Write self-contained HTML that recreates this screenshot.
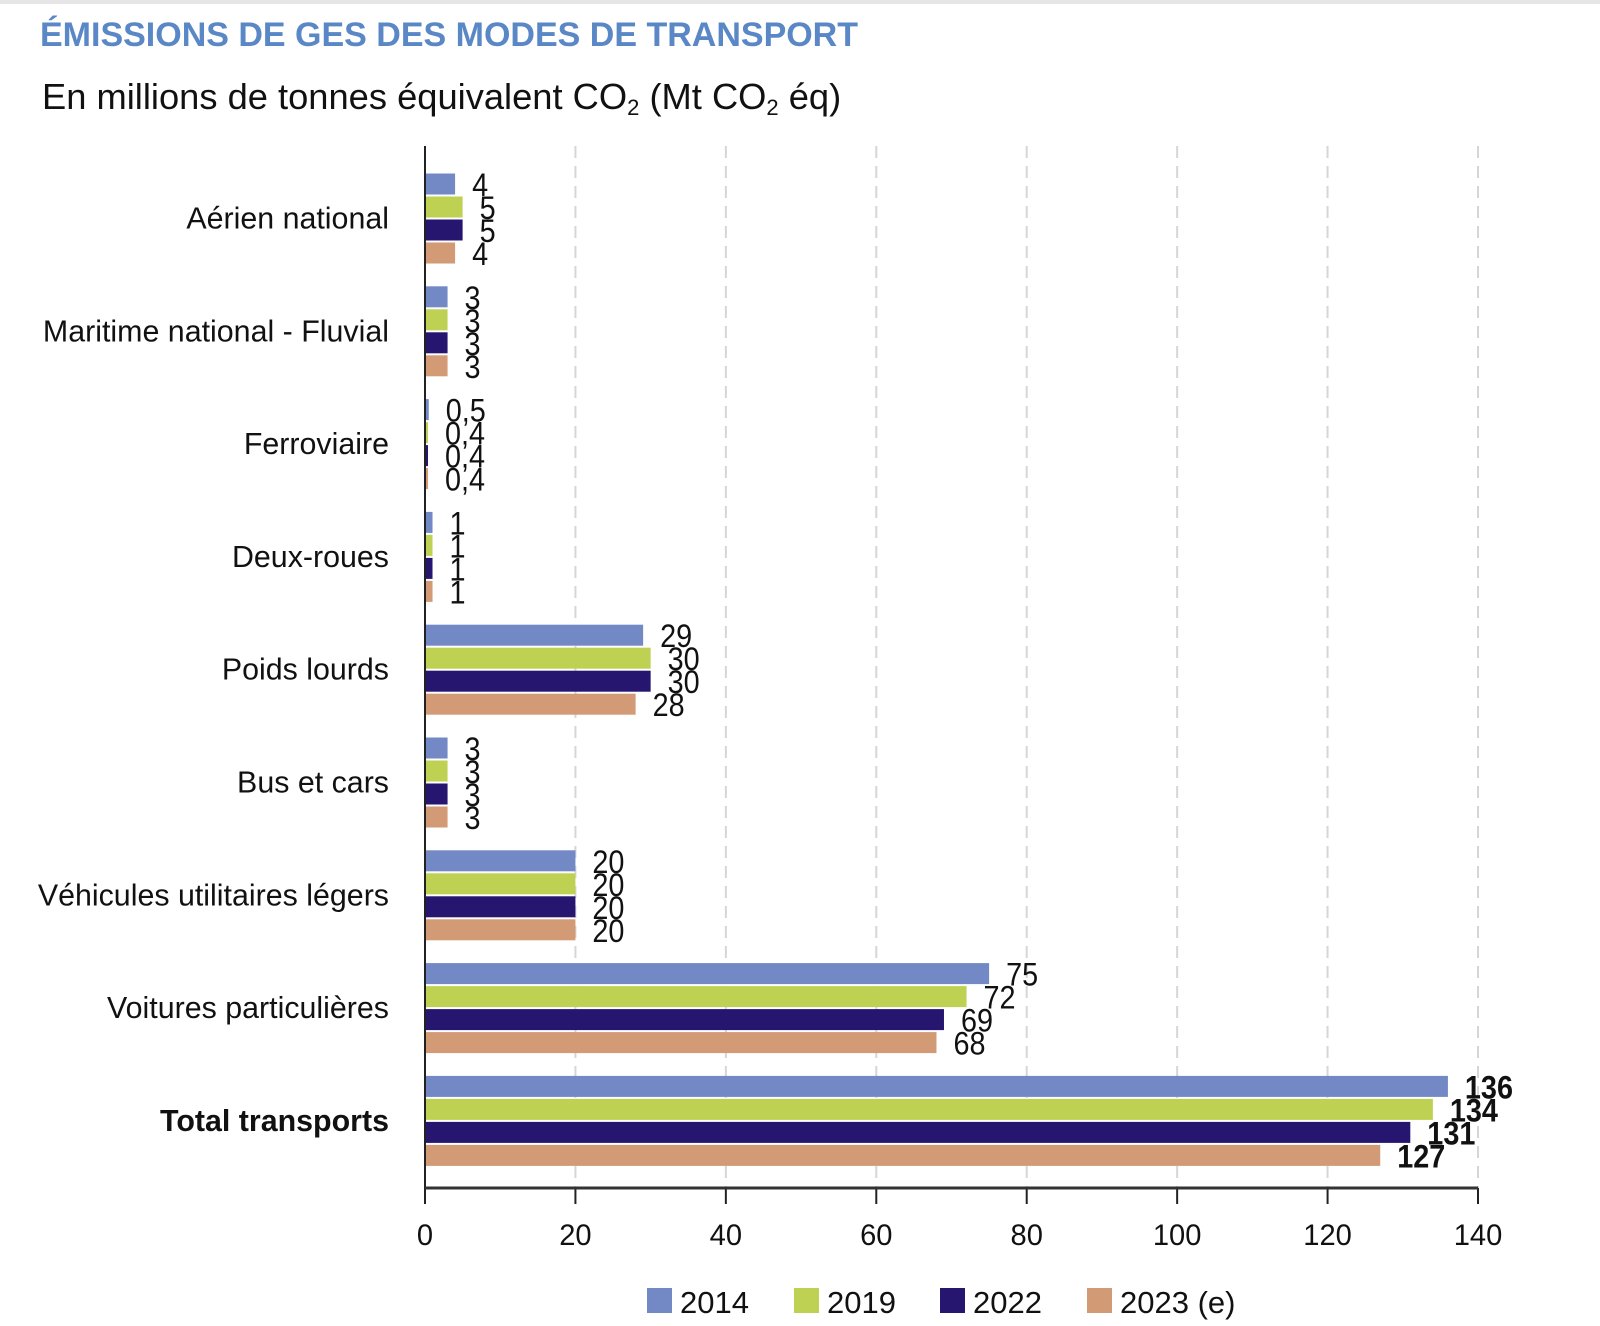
<!DOCTYPE html>
<html><head><meta charset="utf-8"><style>
html,body{margin:0;padding:0;background:#fff;}
svg{display:block;font-family:"Liberation Sans",sans-serif;}
</style></head><body>
<svg id="chart" width="1600" height="1326" viewBox="0 0 1600 1326">
<rect x="0" y="0" width="1600" height="4" fill="#e6e6e6"/>
<text x="40" y="46" font-size="34" font-weight="bold" fill="#5a87c5">ÉMISSIONS DE GES DES MODES DE TRANSPORT</text>
<text x="42" y="109" font-size="36.3" fill="#111">En millions de tonnes équivalent CO<tspan font-size="22" dy="6">2</tspan><tspan dy="-6"> (Mt CO</tspan><tspan font-size="22" dy="6">2</tspan><tspan dy="-6"> éq)</tspan></text>
<g id="grid"></g><g id="bars"></g><g id="labels"></g><g id="axis"></g><g id="legend"></g>
</svg>
<script>
const categories = ["Aérien national","Maritime national - Fluvial","Ferroviaire","Deux-roues","Poids lourds","Bus et cars","Véhicules utilitaires légers","Voitures particulières","Total transports"];
const seriesNames = ["2014","2019","2022","2023 (e)"];
const values2014 = [4,3,0.5,1,29,3,20,75,136];
const values2019 = [5,3,0.4,1,30,3,20,72,134];
const values2022 = [5,3,0.4,1,30,3,20,69,131];
const values2023 = [4,3,0.4,1,28,3,20,68,127];
const xTicks = [0,20,40,60,80,100,120,140];
const colors = ["#7389c6","#bfd152","#261670","#d29a75"];
const series = [values2014,values2019,values2022,values2023];

const NS="http://www.w3.org/2000/svg";
const X0=425, X1=1478, XMAX=140, TOP=146, BOTTOM=1188;
const x = v => X0 + v/XMAX*(X1-X0);
const yc = i => 218.5 + i*112.8;
const BH=21, STEP=23;
function mk(tag, attrs, parent){const e=document.createElementNS(NS,tag);for(const k in attrs)e.setAttribute(k,attrs[k]);parent.appendChild(e);return e;}
const G=id=>document.getElementById(id);
const fmt=v=>String(v).replace('.',',');
const cond=(e,x0,s)=>e.setAttribute('transform',`translate(${x0},0) scale(${s},1) translate(${-x0},0)`);

xTicks.forEach((t,i)=>{
  if(t>0){const l=mk('line',{x1:x(t),x2:x(t),y1:TOP,y2:BOTTOM,stroke:'#d6d6d6','stroke-width':2,'stroke-dasharray':'12,8'},G('grid'));
  
  }
  const tk=mk('line',{x1:x(t),x2:x(t),y1:BOTTOM,y2:BOTTOM+16,stroke:'#222','stroke-width':2},G('axis'));
  
  
  const tl=mk('text',{x:x(t),y:BOTTOM+57,'font-size':30,'text-anchor':'middle',fill:'#111'},G('axis'));
  tl.textContent=t;cond(tl,x(t),0.97);
  
  
});
const ax=mk('line',{x1:X0,x2:X0,y1:TOP,y2:BOTTOM+16,stroke:'#222','stroke-width':2},G('axis'));


const bx=mk('line',{x1:X0,x2:x(140),y1:BOTTOM,y2:BOTTOM,stroke:'#333','stroke-width':3},G('axis'));



categories.forEach((c,i)=>{
  const bold=i===categories.length-1;
  const t=mk('text',{x:389,y:yc(i)+10,'font-size':31,'text-anchor':'end',fill:'#111','font-weight':bold?'bold':'normal'},G('labels'));
  t.textContent=c;cond(t,389,0.98);
  
  
  series.forEach((s,j)=>{
    const y=yc(i)+(j-1.5)*STEP;
    const r=mk('rect',{x:X0+1,y:y-BH/2,width:Math.max(x(s[i])-X0-1,2),height:BH,fill:colors[j]},G('bars'));
    
    
    const lx=x(s[i])+17;
    const v=mk('text',{x:lx,y:y+12,'font-size':32,fill:'#111','font-weight':bold?'bold':'normal'},G('labels'));
    v.textContent=fmt(s[i]);cond(v,lx,0.9);
    
    
  });
});

const lxs=[647,794,940,1087];
seriesNames.forEach((n,j)=>{
  const r=mk('rect',{x:lxs[j],y:1288,width:25,height:25,fill:colors[j]},G('legend'));
  
  
  const t=mk('text',{x:lxs[j]+33,y:1313,'font-size':31,fill:'#111'},G('legend'));
  t.textContent=n;
  
  
});
</script>
</body></html>
